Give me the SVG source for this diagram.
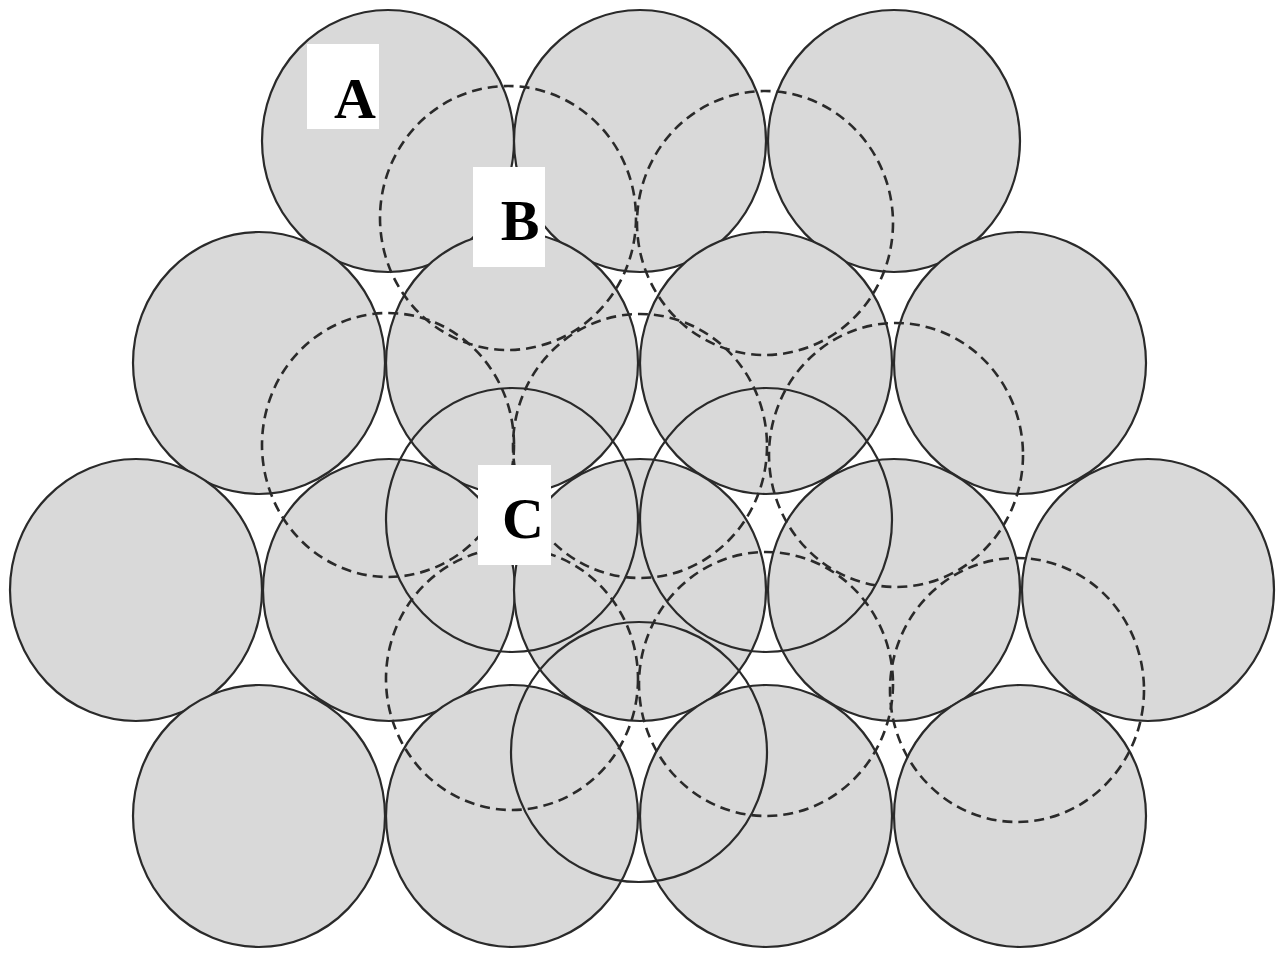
<svg xmlns="http://www.w3.org/2000/svg" width="1283" height="954" viewBox="0 0 1283 954">
<style>
.a{fill:#d9d9d9;stroke:#2a2a2a;stroke-width:2.2}
.b{fill:none;stroke:#2a2a2a;stroke-width:2.6;stroke-dasharray:10 6}
.c{fill:none;stroke:#2a2a2a;stroke-width:2.2}
.box{fill:#ffffff}
.lbl{font-family:"Liberation Serif","Times New Roman",serif;font-weight:bold;font-size:58px;fill:#000;text-anchor:middle}
</style>
<rect width="1283" height="954" fill="#ffffff"/>
<g id="layerA">
<ellipse id="a1" class="a" cx="388" cy="141" rx="126" ry="131"/>
<ellipse id="a2" class="a" cx="640" cy="141" rx="126" ry="131"/>
<ellipse id="a3" class="a" cx="894" cy="141" rx="126" ry="131"/>
<ellipse id="a4" class="a" cx="259" cy="363" rx="126" ry="131"/>
<ellipse id="a5" class="a" cx="512" cy="363" rx="126" ry="131"/>
<ellipse id="a6" class="a" cx="766" cy="363" rx="126" ry="131"/>
<ellipse id="a7" class="a" cx="1020" cy="363" rx="126" ry="131"/>
<ellipse id="a8" class="a" cx="136" cy="590" rx="126" ry="131"/>
<ellipse id="a9" class="a" cx="389" cy="590" rx="126" ry="131"/>
<ellipse id="a10" class="a" cx="640" cy="590" rx="126" ry="131"/>
<ellipse id="a11" class="a" cx="894" cy="590" rx="126" ry="131"/>
<ellipse id="a12" class="a" cx="1148" cy="590" rx="126" ry="131"/>
<ellipse id="a13" class="a" cx="259" cy="816" rx="126" ry="131"/>
<ellipse id="a14" class="a" cx="512" cy="816" rx="126" ry="131"/>
<ellipse id="a15" class="a" cx="766" cy="816" rx="126" ry="131"/>
<ellipse id="a16" class="a" cx="1020" cy="816" rx="126" ry="131"/>
</g>
<g id="layerB">
<ellipse id="b1" class="b" cx="508" cy="218" rx="128" ry="132"/>
<ellipse id="b2" class="b" cx="765" cy="223" rx="128" ry="132"/>
<ellipse id="b3" class="b" cx="388" cy="445" rx="126" ry="132"/>
<ellipse id="b4" class="b" cx="640" cy="446" rx="127" ry="132"/>
<ellipse id="b5" class="b" cx="896" cy="455" rx="127" ry="132"/>
<ellipse id="b6" class="b" cx="512" cy="679" rx="126" ry="131"/>
<ellipse id="b7" class="b" cx="766" cy="684" rx="127" ry="132"/>
<ellipse id="b8" class="b" cx="1017" cy="690" rx="127" ry="132"/>
</g>
<g id="layerC">
<ellipse id="c1" class="c" cx="512" cy="520" rx="126" ry="132"/>
<ellipse id="c2" class="c" cx="766" cy="520" rx="126" ry="132"/>
<ellipse id="c3" class="c" cx="639" cy="752" rx="128" ry="130"/>
</g>
<g id="connectors"></g>
<g id="labelA">
<rect class="box" x="307" y="44" width="72" height="85"/>
<text class="lbl" x="355" y="118">A</text>
</g>
<g id="labelB">
<rect class="box" x="473" y="167" width="72" height="100"/>
<text class="lbl" x="520" y="240">B</text>
</g>
<g id="labelC">
<rect class="box" x="478" y="465" width="73" height="100"/>
<text class="lbl" x="523" y="538">C</text>
</g>
</svg>
